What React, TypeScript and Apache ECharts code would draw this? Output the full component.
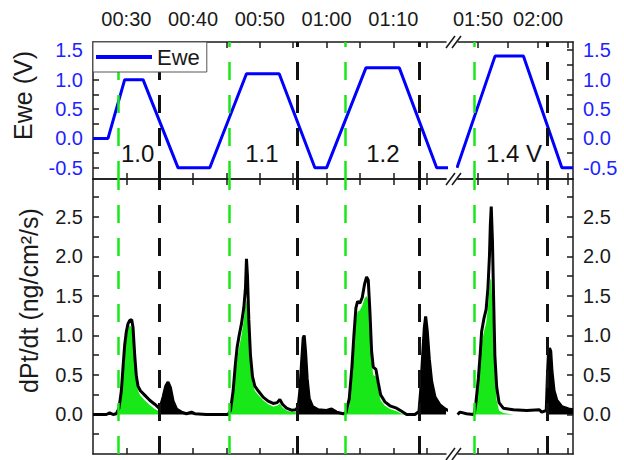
import React, { useEffect, useRef } from 'react';
import * as echarts from 'echarts';

// ---------- data (time in minutes) ----------
const eweTime1 = [25, 27.25, 29.75, 32.5, 37.75, 42.5, 48.0, 52.9, 58.25, 60.0, 65.9, 70.9, 76.5, 78.25];
const eweVolt1 = [0, 0, 1.0, 1.0, -0.5, -0.5, 1.1, 1.1, -0.5, -0.5, 1.2, 1.2, -0.5, -0.5];
const eweTime2 = [106.5, 112.83, 117.55, 123.95, 125.8];
const eweVolt2 = [-0.5, 1.4, 1.4, -0.5, -0.5];

const rateTime1 = [
  25.0, 27.0, 27.5, 28.0, 28.5, 28.9, 29.25, 29.5, 29.75, 30.0, 30.25, 30.5, 30.8, 31.0, 31.25, 31.5, 31.75, 32.1, 32.75, 33.5, 34.25, 34.9,
  35.1, 35.5, 35.9, 36.25, 36.6, 37.0, 37.5, 38.25, 39.0, 39.75, 40.25, 42.0, 44.0, 45.25,
  45.6, 46.0, 46.35, 46.6, 46.9, 47.25, 47.6, 47.85, 48.0, 48.15, 48.35, 48.6, 48.9, 49.25, 49.75, 50.5, 51.25, 52.0, 52.6, 53.0, 53.4, 54.0, 54.75, 55.4,
  55.75, 56.0, 56.25, 56.5, 56.65, 56.85, 57.1, 57.4, 57.9, 58.75, 60.0, 60.75, 61.5, 62.5,
  62.9, 63.4, 63.8, 64.1, 64.4, 64.65, 65.0, 65.35, 65.7, 66.0, 66.25, 66.5, 66.75, 67.0, 67.4, 67.75, 68.1, 68.75, 69.5, 70.5, 71.25, 72.0, 73.25,
  73.85, 74.1, 74.4, 74.65, 74.85, 75.1, 75.4, 75.75, 76.25, 77.0, 77.75, 78.25,
];
const rate1 = [
  0, 0, 0.02, 0, 0.01, 0.08, 0.3, 0.6, 0.88, 1.05, 1.15, 1.19, 1.2, 1.1, 0.75, 0.48, 0.36, 0.3, 0.245, 0.18, 0.13, 0.08,
  0.1, 0.22, 0.36, 0.41, 0.34, 0.17, 0.07, 0.03, 0.01, 0.03, 0.01, 0, 0, 0,
  0.05, 0.3, 0.65, 0.85, 1.0, 1.15, 1.35, 1.6, 1.97, 1.75, 1.2, 0.75, 0.48, 0.36, 0.3, 0.22, 0.17, 0.14, 0.15, 0.19, 0.13, 0.08, 0.055, 0.06,
  0.1, 0.3, 0.65, 0.97, 1.0, 0.8, 0.45, 0.2, 0.1, 0.06, 0.05, 0.07, 0.03, 0.01,
  0.02, 0.2, 0.6, 1.0, 1.35, 1.43, 1.41, 1.48, 1.65, 1.74, 1.7, 1.3, 0.8, 0.6, 0.57, 0.4, 0.25, 0.16, 0.11, 0.08, 0.04, 0.0, 0.0,
  0.04, 0.3, 0.75, 1.1, 1.24, 1.05, 0.7, 0.42, 0.22, 0.12, 0.07, 0.05,
];
const green1 = [
  null, null, null, null, null, 0.05, 0.2, 0.45, 0.72, 0.95, 1.08, 1.13, 1.1, 1.0, 0.68, 0.42, 0.3, 0.24, 0.18, 0.12, 0.07, 0.04,
  null, null, null, null, null, null, null, null, null, null, null, null, null, null,
  0.03, 0.2, 0.5, 0.7, 0.85, 1.0, 1.2, 1.4, 1.45, 1.3, 1.0, 0.6, 0.4, 0.3, 0.25, 0.18, 0.13, 0.1, 0.11, 0.14, 0.09, 0.05, 0.03, 0.03,
  null, null, null, null, null, null, null, null, null, null, null, null, null, null,
  0.0, 0.1, 0.45, 0.85, 1.2, 1.3, 1.32, 1.38, 1.47, 1.5, 1.45, 1.15, 0.68, 0.5, 0.48, 0.32, 0.18, 0.11, 0.07, 0.04, 0.01, 0, 0,
  null, null, null, null, null, null, null, null, null, null, null, null,
];

const rateTime2 = [
  106.6, 107.0, 108.1, 109.2, 109.4, 109.65, 110.05, 110.35, 110.6, 111.0, 111.35, 111.65, 111.9, 112.05, 112.2, 112.4, 112.6, 112.8, 113.1, 113.5, 114.2, 115.9, 118.1, 120.2, 120.6, 121.35,
  121.55, 121.7, 121.9, 122.1, 122.3, 122.65, 123.1, 123.95, 125.05, 125.8,
];
const rate2 = [
  0.0, 0.03, 0.01, 0.0, 0.02, 0.15, 0.45, 0.75, 1.05, 1.22, 1.33, 1.6, 2.0, 2.4, 2.63, 2.2, 1.45, 0.75, 0.35, 0.15, 0.08, 0.06, 0.05, 0.06, 0.03, 0.05,
  0.5, 0.75, 0.84, 0.8, 0.55, 0.3, 0.18, 0.1, 0.07, 0.06,
];
const green2 = [
  null, null, null, null, 0.0, 0.08, 0.35, 0.62, 0.9, 1.05, 1.15, 1.35, 1.6, 1.72, 1.7, 1.4, 0.95, 0.5, 0.18, 0.05, 0.02, 0, 0, 0, 0, 0,
  null, null, null, null, null, null, null, null, null, null,
];

// potential-step markers (dashed lines)
const greenMarks1 = [28.85, 45.35, 62.75];
const blackMarks1 = [35.0, 55.6, 73.85];
const greenMarks2 = [109.33];
const blackMarks2 = [121.55];

// annotations in the Ewe panel
const annotTime1 = [31.7, 50.3, 68.45];
const annotText1 = ['1.0', '1.1', '1.2'];
const annotTime2 = [116.0];
const annotText2 = ['1.4 V'];
const annotLevel = -0.25;

// axes
const xTicks1 = [30, 35, 40, 45, 50, 55, 60, 65, 70, 75];
const xLabels1 = [30, 40, 50, 60, 70];
const xTicks2 = [110, 115, 120, 125];
const xLabels2 = [110, 120];
const eweTicks = [-0.5, -0.25, 0, 0.25, 0.5, 0.75, 1.0, 1.25, 1.5];
const eweLabels = [-0.5, 0, 0.5, 1.0, 1.5];
const rateTicks = [-0.25, 0, 0.25, 0.5, 0.75, 1.0, 1.25, 1.5, 1.75, 2.0, 2.25, 2.5, 2.75];
const rateLabels = [0, 0.5, 1.0, 1.5, 2.0, 2.5];

const X1 = [25, 77.9];
const X2 = [106.67, 125.8];
const YE = [-0.69, 1.64];
const YR = [-0.5, 2.98];

// ---------- styling ----------
const FONT = "'Liberation Sans', Arial, Helvetica, sans-serif";
const INK = '#1a1a1a';
const BLUE = '#0000ff';
const BLUE_TEXT = '#1f1fff';
const GREEN = '#18e818';

const pad2 = (n: number) => (n < 10 ? '0' + n : '' + n);
const fmtTime = (v: number) => {
  const h = Math.floor(v / 60 + 1e-6);
  const m = Math.round(v - h * 60);
  return pad2(h) + ':' + pad2(m);
};

function xAxisDef(gridIndex: number, ext: number[], position: string, ticks: number[], labels?: number[]) {
  return {
    type: 'value', gridIndex, min: ext[0], max: ext[1], position,
    axisLine: { show: true, onZero: false, lineStyle: { color: INK, width: 1.5 } },
    axisTick: { show: true, inside: true, length: 6, customValues: ticks, lineStyle: { color: INK, width: 1.5 } },
    axisLabel: labels
      ? { show: true, customValues: labels, formatter: fmtTime, fontSize: 20, color: INK, margin: 13, fontFamily: FONT }
      : { show: false },
    splitLine: { show: false },
  };
}

function yAxisDef(gridIndex: number, ext: number[], position: string, ticks: number[], labels: number[], color: string, name?: string, nameGap?: number, shift?: number) {
  return {
    type: 'value', gridIndex, min: ext[0], max: ext[1], position,
    name: name || '', nameLocation: 'middle', nameGap: nameGap || 0, nameRotate: 90,
    nameTextStyle: { fontSize: 25, color: INK, fontFamily: FONT, padding: [0, 0, 0, shift || 0] },
    axisLine: { show: true, onZero: false, lineStyle: { color: INK, width: 1.5 } },
    axisTick: { show: true, inside: true, length: 6, customValues: ticks, lineStyle: { color: INK, width: 1.5 } },
    axisLabel: { show: true, customValues: labels, formatter: (v: number) => v.toFixed(1), fontSize: 20, color, margin: 10, fontFamily: FONT },
    splitLine: { show: false },
  };
}

const zip = (a: number[], b: (number | null)[]) => a.map((t, i) => [t, b[i]]);

function runs(time: number[], vals: (number | null)[]) {
  const out: number[][][] = [];
  let cur: number[][] = [];
  time.forEach((t, i) => {
    const v = vals[i];
    if (v === null || v === undefined) {
      if (cur.length) out.push(cur);
      cur = [];
    } else cur.push([t, v]);
  });
  if (cur.length) out.push(cur);
  return out;
}

function blackRuns(time: number[], vals: number[], starts: number[], ends: number[]) {
  return starts.map((s, k) => time.map((t, i) => [t, vals[i]]).filter(p => p[0] >= s && p[0] < ends[k]));
}

function marks(greens: number[], blacks: number[]) {
  return {
    symbol: ['none', 'none'], silent: true, label: { show: false },
    animation: false,
    data: [
      ...greens.map(v => ({ xAxis: v, lineStyle: { color: GREEN, width: 2.5, type: [18, 15] } })),
      ...blacks.map(v => ({ xAxis: v, lineStyle: { color: '#111', width: 3, type: [18, 15] } })),
    ],
  };
}

function buildOption() {
  const grids = [
    { left: 93, top: 42, width: 353, height: 137 },
    { left: 458, top: 42, width: 115, height: 137 },
    { left: 93, top: 179, width: 353, height: 275 },
    { left: 458, top: 179, width: 115, height: 275 },
  ];
  const xAxes = [
    xAxisDef(0, X1, 'bottom', xTicks1),
    xAxisDef(0, X1, 'top', xTicks1, xLabels1),
    xAxisDef(1, X2, 'bottom', xTicks2),
    xAxisDef(1, X2, 'top', xTicks2, xLabels2),
    xAxisDef(2, X1, 'bottom', xTicks1),
    xAxisDef(2, X1, 'top', xTicks1),
    xAxisDef(3, X2, 'bottom', xTicks2),
    xAxisDef(3, X2, 'top', xTicks2),
  ];
  const yAxes = [
    yAxisDef(0, YE, 'left', eweTicks, eweLabels, BLUE_TEXT, 'Ewe (V)', 58, 30),
    yAxisDef(1, YE, 'right', eweTicks, eweLabels, BLUE_TEXT),
    yAxisDef(2, YR, 'left', rateTicks, rateLabels, INK, 'dPt/dt (ng/cm²/s)', 52, 32),
    yAxisDef(3, YR, 'right', rateTicks, rateLabels, INK),
  ];

  const series: any[] = [];
  // Ewe
  series.push({
    type: 'line', name: 'Ewe', xAxisIndex: 0, yAxisIndex: 0, data: zip(eweTime1, eweVolt1),
    showSymbol: false, lineStyle: { color: BLUE, width: 3 }, itemStyle: { color: BLUE }, z: 3,
    markLine: marks(greenMarks1, blackMarks1),
  });
  series.push({
    type: 'line', name: 'Ewe', xAxisIndex: 2, yAxisIndex: 1, data: zip(eweTime2, eweVolt2),
    showSymbol: false, lineStyle: { color: BLUE, width: 3 }, itemStyle: { color: BLUE }, z: 3,
    markLine: marks(greenMarks2, blackMarks2),
  });
  // annotations
  const annot = (xi: number, yi: number, times: number[], texts: string[]) => ({
    type: 'scatter', xAxisIndex: xi, yAxisIndex: yi, symbolSize: 0.01, silent: true,
    itemStyle: { color: '#ffffff', opacity: 1 }, z: 4,
    data: times.map((t, i) => [t, annotLevel, texts[i]]),
    label: {
      show: true, position: 'inside', formatter: (p: any) => p.data[2], fontSize: 24,
      color: '#111', fontFamily: FONT, textBorderWidth: 0, opacity: 1,
    },
  });
  series.push(annot(0, 0, annotTime1, annotText1));
  series.push(annot(2, 1, annotTime2, annotText2));

  // green fills
  const greenFill = (xi: number, yi: number, data: number[][]) => ({
    type: 'line', xAxisIndex: xi, yAxisIndex: yi, data, showSymbol: false, silent: true,
    lineStyle: { width: 0, opacity: 0 }, areaStyle: { color: GREEN, opacity: 1 }, z: 1,
  });
  runs(rateTime1, green1).forEach(d => series.push(greenFill(4, 2, d)));
  runs(rateTime2, green2).forEach(d => series.push(greenFill(6, 3, d)));
  // black fills (cathodic parts: from black marker until next green marker)
  const blackFill = (xi: number, yi: number, data: number[][]) => ({
    type: 'line', xAxisIndex: xi, yAxisIndex: yi, data, showSymbol: false, silent: true,
    lineStyle: { width: 0, opacity: 0 }, areaStyle: { color: '#000', opacity: 1 }, z: 1,
  });
  blackRuns(rateTime1, rate1, blackMarks1, [...greenMarks1.slice(1), X1[1] + 1]).forEach(d => series.push(blackFill(4, 2, d)));
  blackRuns(rateTime2, rate2, blackMarks2, [X2[1] + 1]).forEach(d => series.push(blackFill(6, 3, d)));
  // outline
  series.push({
    type: 'line', xAxisIndex: 4, yAxisIndex: 2, data: zip(rateTime1, rate1), showSymbol: false,
    lineStyle: { color: '#000', width: 3 }, z: 2, markLine: marks(greenMarks1, blackMarks1),
  });
  series.push({
    type: 'line', xAxisIndex: 6, yAxisIndex: 3, data: zip(rateTime2, rate2), showSymbol: false,
    lineStyle: { color: '#000', width: 3 }, z: 2, markLine: marks(greenMarks2, blackMarks2),
  });

  // axis-break marks
  const graphic: any[] = [];
  [42, 179, 454].forEach(y => {
    [0, 6].forEach(dx => {
      graphic.push({
        type: 'line', silent: true, z: 10,
        shape: { x1: 446 + dx, y1: y + 6, x2: 455 + dx, y2: y - 6 },
        style: { stroke: INK, lineWidth: 1.5 },
      });
    });
  });

  return {
    animation: false,
    backgroundColor: '#fff',
    textStyle: { fontFamily: FONT },
    grid: grids,
    xAxis: xAxes,
    yAxis: yAxes,
    legend: {
      data: ['Ewe'], left: 93, top: 42, icon: 'rect', itemWidth: 56, itemHeight: 4, itemGap: 0,
      padding: [4, 7, 4, 3], borderColor: '#555', borderWidth: 1, backgroundColor: '#fff',
      selectedMode: false, z: 6,
      textStyle: { fontSize: 22, color: INK, fontFamily: FONT },
    },
    graphic,
    series,
  };
}

export default function App() {
  const ref = useRef<HTMLDivElement>(null);
  useEffect(() => {
    if (!ref.current) return;
    const chart = echarts.init(ref.current, null, { renderer: 'svg' });
    chart.setOption(buildOption() as any);
    return () => chart.dispose();
  }, []);
  return (
    <div
      ref={ref}
      style={{ position: 'fixed', left: 0, top: 0, width: 624, height: 460, background: '#fff' }}
    />
  );
}
